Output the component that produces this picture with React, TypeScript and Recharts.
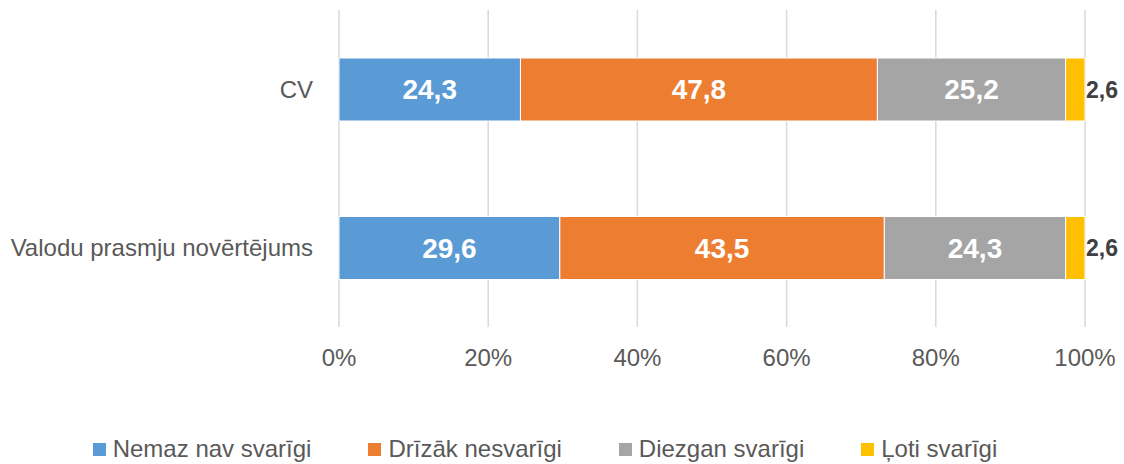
import React from "react";
import { BarChart, Bar, XAxis, YAxis, CartesianGrid, Legend, LabelList } from "recharts";

const categories = ["CV", "Valodu prasmju novērtējums"];
const seriesNames = ["Nemaz nav svarīgi", "Drīzāk nesvarīgi", "Diezgan svarīgi", "Ļoti svarīgi"];
const nemaz = [24.3, 29.6];
const drizak = [47.8, 43.5];
const diezgan = [25.2, 24.3];
const loti = [2.6, 2.6];
const xTicks = [0, 0.2, 0.4, 0.6, 0.8, 1];

const keys = ["s0", "s1", "s2", "s3"];
const colors = ["#5B9BD5", "#ED7D31", "#A5A5A5", "#FFC000"];
const seriesValues = [nemaz, drizak, diezgan, loti];

const data = categories.map((c, i) => {
  const row: Record<string, string | number> = { name: c };
  keys.forEach((k, j) => {
    row[k] = seriesValues[j][i];
  });
  return row;
});

const FONT = '"Liberation Sans", Arial, Helvetica, sans-serif';
const fmt = (v: number) => v.toFixed(1).replace(".", ",");

const LegendContent = () => (
  <div
    style={{
      display: "flex",
      justifyContent: "center",
      alignItems: "center",
      height: 30,
      paddingLeft: 5,
      fontFamily: FONT,
      fontSize: 24,
      color: "#595959",
      whiteSpace: "nowrap",
    }}
  >
    {seriesNames.map((n, i) => (
      <div key={n} style={{ display: "flex", alignItems: "center", marginRight: i < seriesNames.length - 1 ? 57 : 0 }}>
        <span style={{ display: "inline-block", width: 13, height: 13, background: colors[i], marginRight: 7 }} />
        <span>{n}</span>
      </div>
    ))}
  </div>
);

export default function App() {
  return (
    <div style={{ position: "absolute", left: 0, top: 0, width: 1124, height: 464, background: "#fff" }}>
      <BarChart
        width={1124}
        height={464}
        data={data}
        layout="vertical"
        stackOffset="expand"
        margin={{ top: 10, right: 39, left: 0, bottom: 0 }}
      >
        <CartesianGrid horizontal={false} stroke="#D9D9D9" strokeWidth={1.5} />
        <XAxis
          type="number"
          domain={[0, 1]}
          ticks={xTicks}
          tickFormatter={(v: number) => `${Math.round(v * 100)}%`}
          axisLine={false}
          tickLine={false}
          tickSize={0}
          tickMargin={22}
          height={107}
          interval={0}
          tick={{ fill: "#595959", fontSize: 24, fontFamily: FONT }}
        />
        <YAxis
          type="category"
          dataKey="name"
          width={339}
          axisLine={false}
          tickLine={false}
          tickSize={0}
          tickMargin={26}
          tick={{ fill: "#595959", fontSize: 24, fontFamily: FONT }}
        />
        <Legend verticalAlign="bottom" content={<LegendContent />} wrapperStyle={{ height: 30 }} />
        {keys.map((k, j) => (
          <Bar
            key={k}
            dataKey={k}
            name={seriesNames[j]}
            stackId="a"
            fill={colors[j]}
            stroke="#FFFFFF"
            strokeWidth={1}
            barSize={63}
            isAnimationActive={false}
          >
            {j < 3 ? (
              <LabelList
                dataKey={k}
                position="center"
                formatter={(v: any) => fmt(Number(v))}
                style={{ fill: "#FFFFFF", fontSize: 28, fontWeight: 700, fontFamily: FONT }}
              />
            ) : (
              <LabelList
                dataKey={k}
                position="right"
                offset={1}
                formatter={(v: any) => fmt(Number(v))}
                style={{ fill: "#404040", fontSize: 23, fontWeight: 700, fontFamily: FONT }}
              />
            )}
          </Bar>
        ))}
      </BarChart>
    </div>
  );
}
